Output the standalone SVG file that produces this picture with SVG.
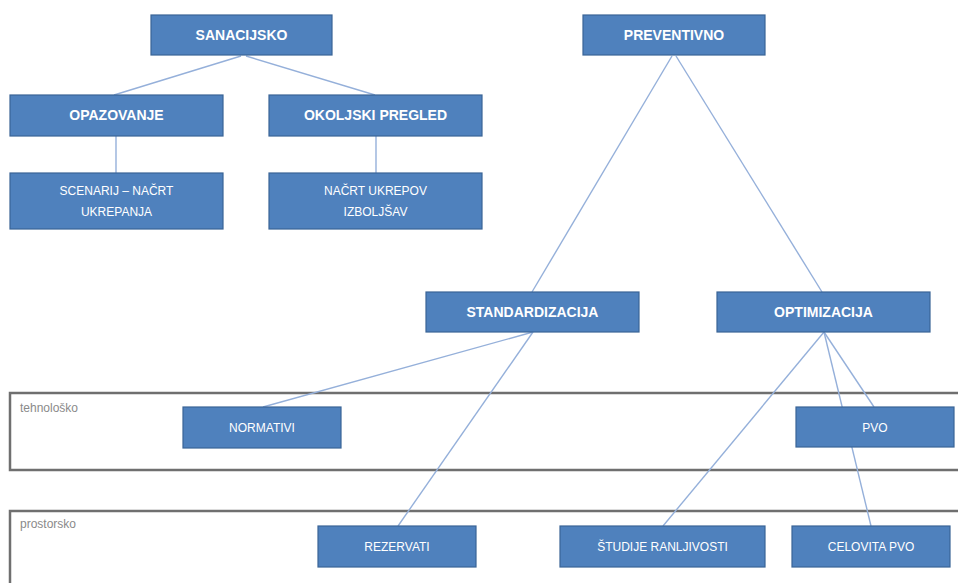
<svg xmlns="http://www.w3.org/2000/svg" width="958" height="583" viewBox="0 0 958 583">
<style>
.box{fill:#4F81BD;stroke:#3A6496;stroke-width:1.2}
.t{font-family:"Liberation Sans",Arial,sans-serif;font-weight:bold;font-size:14px;fill:#fff;text-anchor:middle}
.s{font-family:"Liberation Sans",Arial,sans-serif;font-size:12px;fill:#fff;text-anchor:middle}
.band{fill:#fff;stroke:#6f6f6f;stroke-width:2.5}
.bl{font-family:"Liberation Sans",Arial,sans-serif;font-size:12px;fill:#8a8a8a}
.c line{stroke:#95B0DA;stroke-width:1.4}
</style>
<rect width="958" height="583" fill="#fff"/>
<g id="band-tehnolosko">
<rect class="band" x="10" y="393" width="960" height="77"/>
<text class="bl" x="20" y="412">tehnološko</text>
</g>
<g id="band-prostorsko">
<rect class="band" x="10" y="511" width="960" height="90"/>
<text class="bl" x="20" y="528">prostorsko</text>
</g>
<g id="connectors" class="c">
<line x1="241" y1="56" x2="114" y2="95"/>
<line x1="246" y1="56" x2="375" y2="95"/>
<line x1="116" y1="136" x2="116" y2="173"/>
<line x1="376" y1="136" x2="376" y2="173"/>
<line x1="672" y1="56" x2="532" y2="292"/>
<line x1="676" y1="56" x2="822" y2="292"/>
<line x1="533" y1="332" x2="263" y2="407"/>
<line x1="533" y1="332" x2="398" y2="526"/>
<line x1="824" y1="332" x2="663" y2="526"/>
<line x1="824" y1="332" x2="874" y2="407"/>
<line x1="824" y1="332" x2="871" y2="526"/>
</g>
<g id="sanacijsko"><rect class="box" x="151" y="15" width="181" height="40"/><text class="t" x="241.5" y="40">SANACIJSKO</text></g>
<g id="preventivno"><rect class="box" x="583" y="15" width="182" height="40"/><text class="t" x="674" y="40">PREVENTIVNO</text></g>
<g id="opazovanje"><rect class="box" x="10" y="95" width="213" height="41"/><text class="t" x="116.5" y="120">OPAZOVANJE</text></g>
<g id="okoljski"><rect class="box" x="269" y="95" width="213" height="41"/><text class="t" x="375.5" y="120">OKOLJSKI PREGLED</text></g>
<g id="scenarij"><rect class="box" x="10" y="173" width="213" height="56"/><text class="s" x="116.5" y="195">SCENARIJ – NAČRT</text><text class="s" x="116.5" y="216">UKREPANJA</text></g>
<g id="nacrt"><rect class="box" x="269" y="173" width="213" height="56"/><text class="s" x="375.5" y="195">NAČRT UKREPOV</text><text class="s" x="375.5" y="216">IZBOLJŠAV</text></g>
<g id="standardizacija"><rect class="box" x="426" y="292" width="213" height="40"/><text class="t" x="532.5" y="317">STANDARDIZACIJA</text></g>
<g id="optimizacija"><rect class="box" x="717" y="292" width="213" height="40"/><text class="t" x="823.5" y="317">OPTIMIZACIJA</text></g>
<g id="normativi"><rect class="box" x="183" y="407" width="158" height="41"/><text class="s" x="262" y="432">NORMATIVI</text></g>
<g id="pvo"><rect class="box" x="796" y="407" width="158" height="40"/><text class="s" x="875" y="432">PVO</text></g>
<g id="rezervati"><rect class="box" x="318" y="526" width="158" height="41"/><text class="s" x="397" y="551">REZERVATI</text></g>
<g id="studije"><rect class="box" x="560" y="526" width="205" height="41"/><text class="s" x="662.5" y="551">ŠTUDIJE RANLJIVOSTI</text></g>
<g id="celovita"><rect class="box" x="792" y="526" width="158" height="41"/><text class="s" x="871" y="551">CELOVITA PVO</text></g>
</svg>
